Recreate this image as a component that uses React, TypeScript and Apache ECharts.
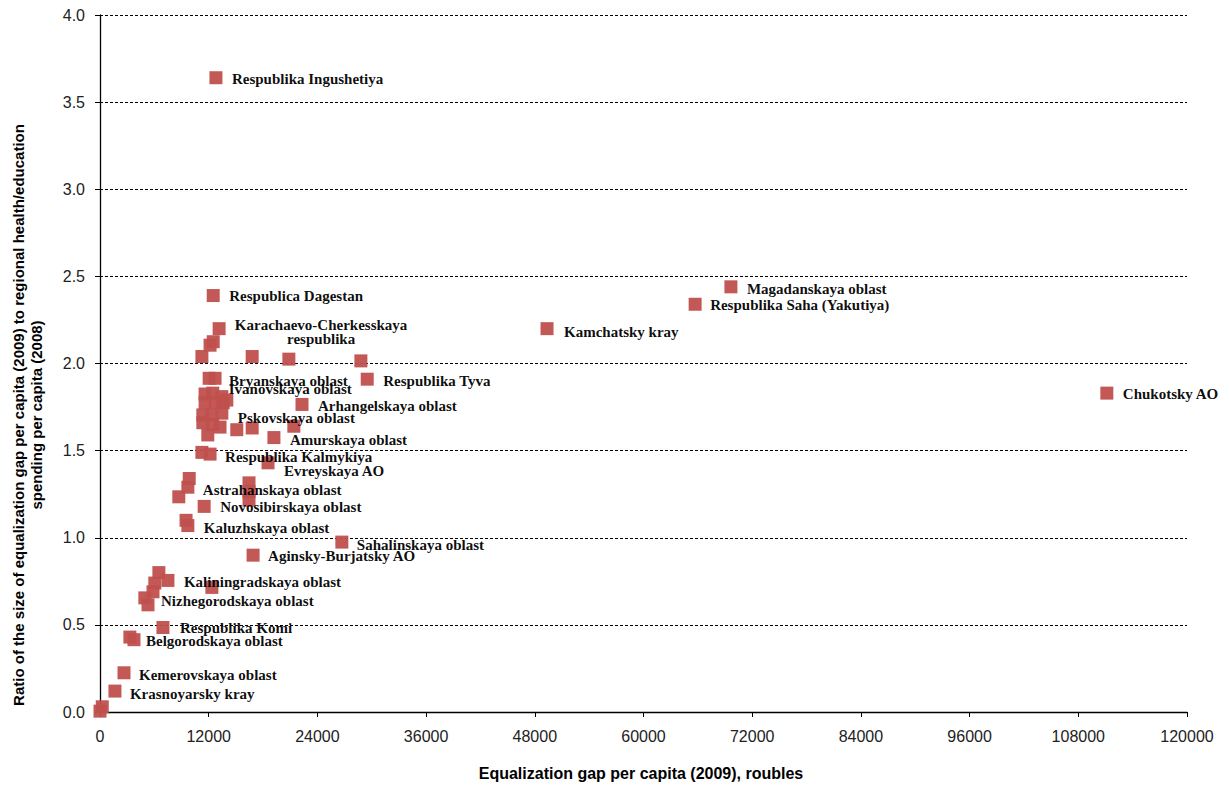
import React, { useEffect, useRef } from "react";
import * as echarts from "echarts";

const regionNames: string[] = [
  "Respublika Ingushetiya", "Respublica Dagestan", "Karachaevo-Cherkesskaya\nrespublika", "", "",
  "", "", "", "", "Respublika Tyva",
  "Arhangelskaya oblast", "", "Bryanskaya oblast", "", "Ivanovskaya oblast",
  "", "", "", "", "",
  "", "", "Pskovskaya oblast", "", "",
  "", "", "", "", "",
  "Amurskaya oblast", "", "Respublika Kalmykiya", "Evreyskaya AO", "",
  "", "Astrahanskaya oblast", "", "", "",
  "Novosibirskaya oblast", "", "Kaluzhskaya oblast", "Sahalinskaya oblast", "Aginsky-Burjatsky AO",
  "", "Kaliningradskaya oblast", "", "", "",
  "", "Nizhegorodskaya oblast", "Respublika Komi", "", "Belgorodskaya oblast",
  "Kemerovskaya oblast", "Krasnoyarsky kray", "", "", "Kamchatsky kray",
  "Magadanskaya oblast", "Respublika Saha (Yakutiya)", "Chukotsky AO",
];

const gapPerCapita: number[] = [
  12800, 12500, 13150, 12500, 12150,
  11250, 16800, 20850, 28800, 29500,
  22300, 12050, 12700, 11600, 12450,
  13450, 11600, 12700, 13600, 14000,
  11350, 12350, 13450, 11350, 12450,
  13250, 11900, 15100, 16800, 21400,
  19200, 11250, 12150, 18550, 9850,
  9700, 8700, 16450, 16450, 16450,
  11500, 9500, 9700, 26700, 16900,
  6500, 7500, 6050, 12350, 5850,
  4950, 5300, 6950, 3300, 3750,
  2650, 1650, 0, 250, 49350,
  69650, 65700, 111150,
];

const ratio: number[] = [
  3.64, 2.39, 2.2, 2.125, 2.105,
  2.04, 2.04, 2.025, 2.015, 1.91,
  1.765, 1.915, 1.915, 1.825, 1.83,
  1.81, 1.775, 1.775, 1.775, 1.79,
  1.705, 1.705, 1.715, 1.66, 1.65,
  1.635, 1.59, 1.62, 1.63, 1.64,
  1.575, 1.49, 1.48, 1.43, 1.34,
  1.29, 1.235, 1.315, 1.265, 1.215,
  1.18, 1.1, 1.07, 0.975, 0.9,
  0.8, 0.755, 0.74, 0.715, 0.69,
  0.655, 0.615, 0.485, 0.43, 0.415,
  0.225, 0.12, 0.005, 0.03, 2.2,
  2.44, 2.34, 1.83,
];

const xTickInterval = 12000;
const yTickInterval = 0.5;

const xAxisTitle = "Equalization gap per capita (2009), roubles";
const yAxisTitle =
  "Ratio of the size of equalization gap per capita (2009) to regional health/education\nspending per capita (2008)";

// label placement tweaks (style, not data)
const labelOffsets: Record<string, [number, number]> = {
  "Respublika Ingushetiya": [3, 1],
  "Respublica Dagestan": [3, 0],
  "Bryanskaya oblast": [1, 3],
  "Ivanovskaya oblast": [3, -4],
  "Arhangelskaya oblast": [3, 2],
  "Respublika Tyva": [3, 2],
  "Pskovskaya oblast": [3, 5],
  "Amurskaya oblast": [3, 2],
  "Respublika Kalmykiya": [2, 3],
  "Evreyskaya AO": [3, 8],
  "Astrahanskaya oblast": [11, -7],
  "Novosibirskaya oblast": [3, 1],
  "Kaluzhskaya oblast": [3, 2],
  "Sahalinskaya oblast": [2, 3],
  "Aginsky-Burjatsky AO": [2, 1],
  "Kaliningradskaya oblast": [3, 2],
  "Nizhegorodskaya oblast": [0, -4],
  "Respublika Komi": [4, 1],
  "Belgorodskaya oblast": [-1, 1],
  "Kemerovskaya oblast": [2, 2],
  "Krasnoyarsky kray": [2, 3],
  "Kamchatsky kray": [4, 3],
  "Magadanskaya oblast": [3, 2],
  "Respublika Saha (Yakutiya)": [2, 1],
  "Chukotsky AO": [3, 1],
};

export default function App() {
  const ref = useRef<HTMLDivElement>(null);
  useEffect(() => {
    if (!ref.current) return;
    const chart = echarts.init(ref.current, undefined, { renderer: "svg" });
    const data = regionNames.map((name, i) => {
      const item: any = { name, value: [gapPerCapita[i], ratio[i]] };
      if (name) {
        const multi = name.indexOf("\n") >= 0;
        const off = labelOffsets[name] || [3, 2];
        item.label = multi
          ? {
              show: true,
              position: "right",
              distance: 6.5,
              align: "center",
              lineHeight: 14,
              offset: [89, 3],
            }
          : { show: true, position: "right", distance: 6.5, offset: off };
      }
      return item;
    });
    chart.setOption({
      animation: false,
      backgroundColor: "#ffffff",
      grid: { left: 100, right: 42, top: 15, bottom: 73 },
      xAxis: {
        type: "value",
        min: 0,
        max: 120000,
        interval: xTickInterval,
        axisLine: { show: true, lineStyle: { color: "#000", width: 1.3 } },
        axisTick: { show: true, length: 5, lineStyle: { color: "#000" } },
        axisLabel: {
          margin: 16,
          color: "#222",
          fontFamily: "Liberation Sans",
          fontSize: 16,
          formatter: (v: number) => String(v),
        },
        splitLine: { show: false },
      },
      yAxis: {
        type: "value",
        min: 0,
        max: 4,
        interval: yTickInterval,
        axisLine: { show: true, lineStyle: { color: "#000", width: 1.3 } },
        axisTick: { show: true, length: 5, lineStyle: { color: "#000" } },
        axisLabel: {
          margin: 15,
          color: "#222",
          fontFamily: "Liberation Sans",
          fontSize: 16,
          formatter: (v: number) => v.toFixed(1),
        },
        splitLine: {
          show: true,
          lineStyle: { color: "#000", type: [3, 2], width: 1 },
        },
      },
      graphic: [
        {
          type: "text",
          x: 641,
          y: 773,
          style: {
            text: xAxisTitle,
            fill: "#000",
            font: "bold 16px 'Liberation Sans'",
            textAlign: "center",
            textVerticalAlign: "middle",
          },
        },
        {
          type: "text",
          x: 27,
          y: 415,
          rotation: Math.PI / 2,
          style: {
            text: yAxisTitle,
            fill: "#000",
            font: "bold 15px 'Liberation Sans'",
            textAlign: "center",
            textVerticalAlign: "middle",
            lineHeight: 18,
          },
        },
      ],
      series: [
        {
          type: "scatter",
          symbol: "rect",
          symbolSize: 13,
          itemStyle: { color: "#C0504D", opacity: 0.95 },
          label: {
            show: false,
            formatter: "{b}",
            color: "#000",
            fontFamily: "Liberation Serif",
            fontWeight: "bold",
            fontSize: 15,
          },
          emphasis: { disabled: true },
          data,
        },
      ],
    });
    return () => chart.dispose();
  }, []);
  return (
    <div
      ref={ref}
      style={{ position: "fixed", left: 0, top: 0, width: 1229, height: 785 }}
    />
  );
}
